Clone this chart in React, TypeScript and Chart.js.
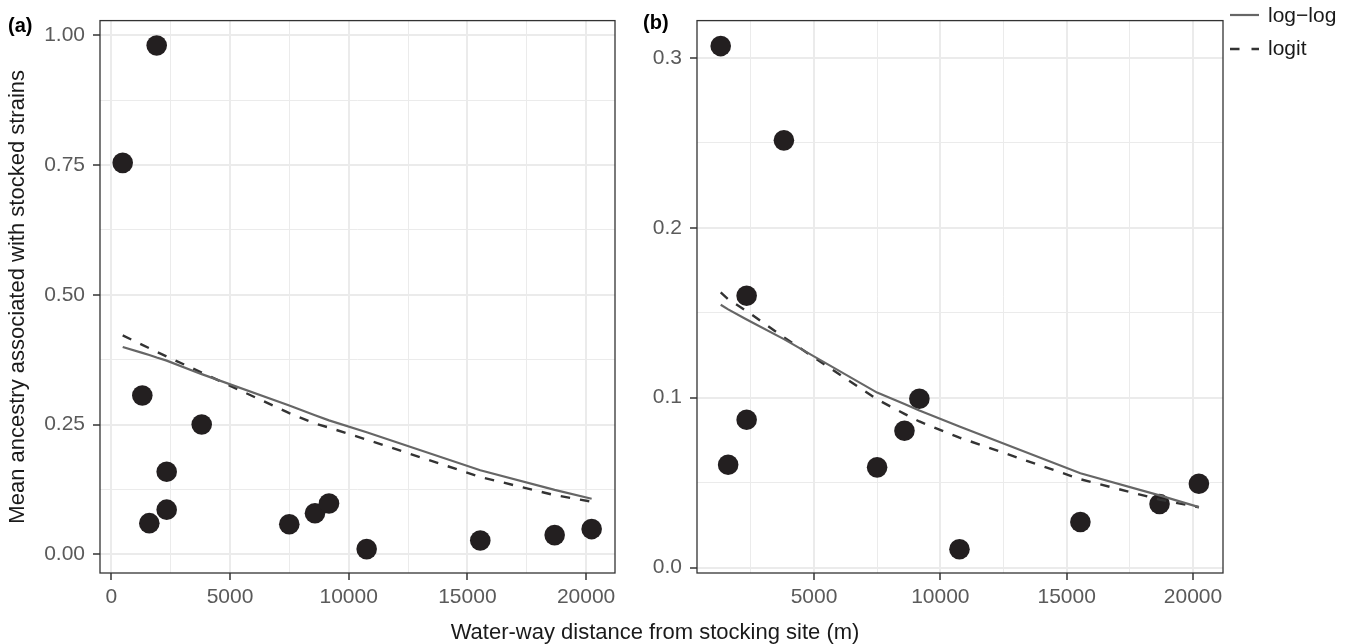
import React, { useEffect, useRef } from "react";
import { Chart, registerables } from "chart.js";

Chart.register(...registerables);

// ---------- data ----------
// Panel (a): all sites
const distanceA = [480, 1306, 1601, 1912, 2333, 2333, 3808, 7497, 8580, 9170, 10757, 15543, 18676, 20234];
const ancestryA = [0.754, 0.306, 0.06, 0.98, 0.159, 0.086, 0.25, 0.058, 0.079, 0.098, 0.01, 0.0265, 0.037, 0.0486];
const fitDistanceA = [480, 1306, 1601, 1912, 2333, 3808, 7497, 8580, 9170, 10757, 15543, 18676, 20234];
const logLogA = [0.3994, 0.388, 0.384, 0.379, 0.373, 0.347, 0.2865, 0.268, 0.258, 0.235, 0.162, 0.124, 0.107];
const logitA = [0.4216, 0.4035, 0.397, 0.39, 0.381, 0.35, 0.272, 0.252, 0.244, 0.221, 0.149, 0.114, 0.1015];

// Panel (b): without the two nearest sites
const distanceB = [1306, 1601, 2333, 2333, 3808, 7497, 8580, 9170, 10757, 15543, 18676, 20234];
const ancestryB = [0.307, 0.0605, 0.16, 0.087, 0.2515, 0.059, 0.0805, 0.0994, 0.0108, 0.0268, 0.0374, 0.0493];
const fitDistanceB = [1306, 1601, 2333, 3808, 7497, 8580, 9170, 10757, 15543, 18676, 20234];
const logLogB = [0.1547, 0.152, 0.146, 0.1345, 0.103, 0.0963, 0.0925, 0.083, 0.0555, 0.0425, 0.0356];
const logitB = [0.162, 0.158, 0.151, 0.1355, 0.099, 0.0905, 0.086, 0.0765, 0.052, 0.04, 0.0355];

// ---------- axes ----------
const xMajorA = [0, 5000, 10000, 15000, 20000];
const xMinorA = [2500, 7500, 12500, 17500];
const yMajorA = [0, 0.25, 0.5, 0.75, 1.0];
const yMinorA = [0.125, 0.375, 0.625, 0.875];
const xMajorB = [5000, 10000, 15000, 20000];
const xMinorB = [2500, 7500, 12500, 17500];
const yMajorB = [0, 0.1, 0.2, 0.3];
const yMinorB = [0.05, 0.15, 0.25];

const xLimitsA = [-476, 21218];
const yLimitsA = [-0.036, 1.028];
const xLimitsB = [368, 21188];
const yLimitsB = [-0.0032, 0.322];

const yTitle = "Mean ancestry associated with stocked strains";
const xTitle = "Water-way distance from stocking site (m)";
const legendLabels = ["log\u2212log", "logit"];

const FONT = '"Liberation Sans", Arial, Helvetica, sans-serif';

const isIn = (v: number, arr: number[]) => arr.some((m) => Math.abs(m - v) < 1e-9);

function makeAxis(
  limits: number[],
  major: number[],
  minor: number[],
  fmt: (v: number) => string,
  isY: boolean,
  width: number
): any {
  const all = [...major, ...minor].sort((a, b) => a - b);
  return {
    type: "linear",
    min: limits[0],
    max: limits[1],
    afterBuildTicks: (s: any) => {
      s.ticks = all.map((v) => ({ value: v }));
    },
    afterFit: (s: any) => {
      if (isY) s.width = width;
      else s.height = 71;
    },
    ticks: {
      autoSkip: false,
      maxRotation: 0,
      minRotation: 0,
      padding: isY ? 8 : 5,
      color: "#5a5a5a",
      font: { family: FONT, size: 21 },
      callback: (v: number) => (isIn(v, major) ? fmt(v) : ""),
    },
    grid: {
      color: "#ebebeb",
      lineWidth: (ctx: any) => (ctx.tick && isIn(ctx.tick.value, major) ? 2 : 1),
      tickColor: (ctx: any) => (ctx.tick && isIn(ctx.tick.value, major) ? "#333333" : "rgba(0,0,0,0)"),
      tickLength: 7,
      tickWidth: 1.5,
      drawTicks: true,
    },
    border: { display: false },
  };
}

const panelBorder = {
  id: "panelBorder",
  afterDraw(chart: any) {
    const { ctx, chartArea: a } = chart;
    ctx.save();
    ctx.strokeStyle = "#333333";
    ctx.lineWidth = 1.3;
    ctx.strokeRect(a.left, a.top, a.right - a.left, a.bottom - a.top);
    ctx.restore();
  },
};

function datasets(dist: number[], anc: number[], fx: number[], ll: number[], lg: number[]) {
  return [
    {
      label: legendLabels[0],
      data: fx.map((x, i) => ({ x, y: ll[i] })),
      showLine: true,
      borderColor: "#666666",
      borderWidth: 2.2,
      pointRadius: 0,
      tension: 0,
      order: 0,
      clip: false,
    },
    {
      label: legendLabels[1],
      data: fx.map((x, i) => ({ x, y: lg[i] })),
      showLine: true,
      borderColor: "#333333",
      borderWidth: 2.4,
      borderDash: [9.5, 10],
      pointRadius: 0,
      tension: 0,
      order: 0,
      clip: false,
    },
    {
      label: "sites",
      data: dist.map((x, i) => ({ x, y: anc[i] })),
      showLine: false,
      backgroundColor: "#231f20",
      borderWidth: 0,
      pointRadius: 10.3,
      pointHoverRadius: 10.3,
      order: 1,
      clip: false,
    },
  ];
}

export default function App() {
  const refA = useRef<HTMLCanvasElement>(null);
  const refB = useRef<HTMLCanvasElement>(null);

  useEffect(() => {
    const yA = makeAxis(yLimitsA, yMajorA, yMinorA, (v) => v.toFixed(2), true, 100);
    yA.title = {
      display: true,
      text: yTitle,
      color: "#1a1a1a",
      font: { family: FONT, size: 22 },
      padding: { top: 5, bottom: 0 },
    };
    const xA = makeAxis(xLimitsA, xMajorA, xMinorA, (v) => String(v), false, 0);

    const chartA = new Chart(refA.current as HTMLCanvasElement, {
      type: "scatter",
      data: { datasets: datasets(distanceA, ancestryA, fitDistanceA, logLogA, logitA) as any },
      options: {
        responsive: false,
        animation: false,
        devicePixelRatio: 1,
        layout: { padding: { left: 0, top: 10, right: 25, bottom: 0 } },
        plugins: { legend: { display: false }, tooltip: { enabled: false } },
        scales: { x: xA, y: yA },
      } as any,
      plugins: [panelBorder],
    });

    const yB = makeAxis(yLimitsB, yMajorB, yMinorB, (v) => v.toFixed(1), true, 57);
    const xB = makeAxis(xLimitsB, xMajorB, xMinorB, (v) => String(v), false, 0);

    const chartB = new Chart(refB.current as HTMLCanvasElement, {
      type: "scatter",
      data: { datasets: datasets(distanceB, ancestryB, fitDistanceB, logLogB, logitB) as any },
      options: {
        responsive: false,
        animation: false,
        devicePixelRatio: 1,
        layout: { padding: { left: 0, top: 10, right: 131, bottom: 0 } },
        plugins: { legend: { display: false }, tooltip: { enabled: false } },
        scales: { x: xB, y: yB },
      } as any,
      plugins: [panelBorder],
    });

    return () => {
      chartA.destroy();
      chartB.destroy();
    };
  }, []);

  const textBase: React.CSSProperties = {
    position: "absolute",
    fontFamily: FONT,
    whiteSpace: "nowrap",
    color: "#1a1a1a",
  };

  return (
    <div
      style={{
        position: "fixed",
        left: 0,
        top: 0,
        width: 1354,
        height: 644,
        background: "#ffffff",
        overflow: "hidden",
      }}
    >
      <canvas ref={refA} width={640} height={644} style={{ position: "absolute", left: 0, top: 0, width: 640, height: 644 }} />
      <canvas ref={refB} width={714} height={644} style={{ position: "absolute", left: 640, top: 0, width: 714, height: 644 }} />

      <div style={{ ...textBase, left: 8, top: 13, fontSize: 20, lineHeight: "24px", fontWeight: "bold", color: "#000" }}>(a)</div>
      <div style={{ ...textBase, left: 643, top: 10, fontSize: 20, lineHeight: "24px", fontWeight: "bold", color: "#000" }}>(b)</div>

      <div
        style={{
          ...textBase,
          left: 100,
          width: 1110,
          top: 619,
          textAlign: "center",
          fontSize: 22,
          lineHeight: "26px",
        }}
      >
        {xTitle}
      </div>

      <svg width={34} height={60} style={{ position: "absolute", left: 1228, top: 0 }}>
        <line x1={2} y1={15} x2={31} y2={15} stroke="#666666" strokeWidth={2.2} />
        <line x1={2} y1={49} x2={31} y2={49} stroke="#333333" strokeWidth={2.4} strokeDasharray="9.5 12" />
      </svg>
      <div style={{ ...textBase, left: 1268, top: 2, fontSize: 21, lineHeight: "26px" }}>{legendLabels[0]}</div>
      <div style={{ ...textBase, left: 1268, top: 35, fontSize: 21, lineHeight: "26px" }}>{legendLabels[1]}</div>
    </div>
  );
}
